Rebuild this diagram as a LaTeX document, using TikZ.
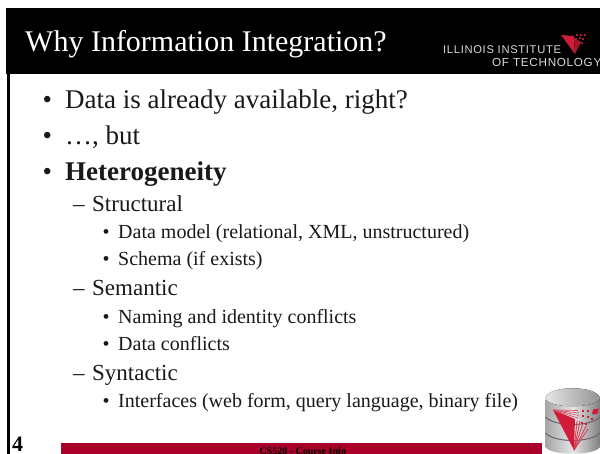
\documentclass[tikz,border=0pt]{standalone}
\usepackage{fontspec}
\setmainfont{Liberation Serif}
\newfontfamily\logofont[LetterSpace=6]{Liberation Sans}
\definecolor{bandred}{HTML}{A80028}
\definecolor{logored}{HTML}{D01C38}
\begin{document}
\begin{tikzpicture}[x=1pt,y=-1pt,
  lone/.style={anchor=base west,inner sep=0pt,font=\fontsize{27}{27}\selectfont,text=black!90},
  ltwo/.style={anchor=base west,inner sep=0pt,font=\fontsize{23}{23}\selectfont,text=black!90},
  lthree/.style={anchor=base west,inner sep=0pt,font=\fontsize{20}{20}\selectfont,text=black!90},
  logotxt/.style={anchor=base west,inner sep=0pt,text=white!85!black}]
\useasboundingbox (0,0) rectangle (600,454);
\fill[white] (0,0) rectangle (600,454);
\fill[black] (6,8) rectangle (600,74);
\fill[black] (6.5,74) rectangle (9.5,454);
\node[anchor=base west,inner sep=0pt,text=white,font=\fontsize{30}{30}\selectfont] (title) at (25,52) {Why Information Integration?};
\node[logotxt,font=\logofont\fontsize{11.2}{11.2}\selectfont] (l1) at (443,54) {ILLINOIS INSTITUTE};
\node[logotxt,font=\logofont\fontsize{11.7}{11.7}\selectfont] (l2) at (492,67) {OF TECHNOLOGY};
% header logo
\fill[logored] (561,35) -- (574,36) -- (575,54) -- cycle;
\fill[logored!75!black] (574,38) -- (581,42) -- (575,54) -- cycle;
\foreach \p in {(577,35),(581,35),(585,35),(576,39),(580,38),(583,39),(579,43),(582,43)}
  \fill[logored!85!black] \p ++(-1,-1) rectangle ++(2,2);
% body text
\node[lone] (b1) at (42.3,109) {•};
\node[lone] (t1) at (65,109) {Data is already available, right?};
\node[lone] (b2) at (42.3,145) {•};
\node[lone] (t2) at (65,145) {…, but};
\node[lone] (b3) at (42.3,181) {•};
\node[lone] (t3) at (65,181) {\textbf{Heterogeneity}};
\node[ltwo] (d1) at (73,212) {–};
\node[ltwo] (s1) at (92,212) {Structural};
\node[lthree] (e1) at (102.5,239) {•};
\node[lthree] (u1) at (118,239) {Data model (relational, XML, unstructured)};
\node[lthree] (e2) at (102.5,266) {•};
\node[lthree] (u2) at (118,266) {Schema (if exists)};
\node[ltwo] (d2) at (73,296) {–};
\node[ltwo] (s2) at (92,296) {Semantic};
\node[lthree] (e3) at (102.5,324) {•};
\node[lthree] (u3) at (118,324) {Naming and identity conflicts};
\node[lthree] (e4) at (102.5,351) {•};
\node[lthree] (u4) at (118,351) {Data conflicts};
\node[ltwo] (d3) at (73,381) {–};
\node[ltwo] (s3) at (92,381) {Syntactic};
\node[lthree] (e5) at (102.5,407) {•};
\node[lthree] (u5) at (118,407) {Interfaces (web form, query language, binary file)};
\node[anchor=base west,inner sep=0pt,font=\bfseries\fontsize{22}{22}\selectfont] (num) at (12,451) {4};
\fill[bandred] (61,443) rectangle (542,454);
\node[anchor=base,inner sep=0pt,font=\bfseries\fontsize{10}{10}\selectfont] (foot) at (303,454) {CS520 - Course Info};
% database can
\path[left color=black!35,right color=black!50,middle color=black!10] (545.5,399) -- (545.5,447) .. controls (550,456) and (595,456) .. (600,447) -- (600,399) -- cycle;
\fill[left color=black!10,right color=black!42] (545.5,398) .. controls (548,385) and (597,385) .. (600,398) .. controls (597,409) and (548,409) .. (545.5,398) -- cycle;
\draw[black!60,line width=1pt] (545.5,417) .. controls (555,427) and (590,427) .. (600,417);
\draw[black!60,line width=1pt] (545.5,433) .. controls (555,443) and (590,443) .. (600,433);
\fill[logored] (553,410) -- (575,419) -- (574,450) -- cycle;
\foreach \q in {(578,410.5),(579,413),(579,415.5),(578,418)}
  \draw[logored!75!white,line width=.7pt] (553,410) -- \q;
\foreach \q in {(577,421),(580,421),(583,423),(586,426),(588,429)}
  \draw[logored!85!white,line width=.9pt] (574,450) -- \q;
\foreach \p in {(583,411),(588,411),(583,416),(588,417),(592,419),(582,423),(586,424)}
  \fill[logored] \p ++(-1.3,-1.3) rectangle ++(2.6,2.6);
\fill[logored] (593,409.5) -- (599,408.5) -- (597,414) -- (592,414) -- cycle;
\end{tikzpicture}
\end{document}
